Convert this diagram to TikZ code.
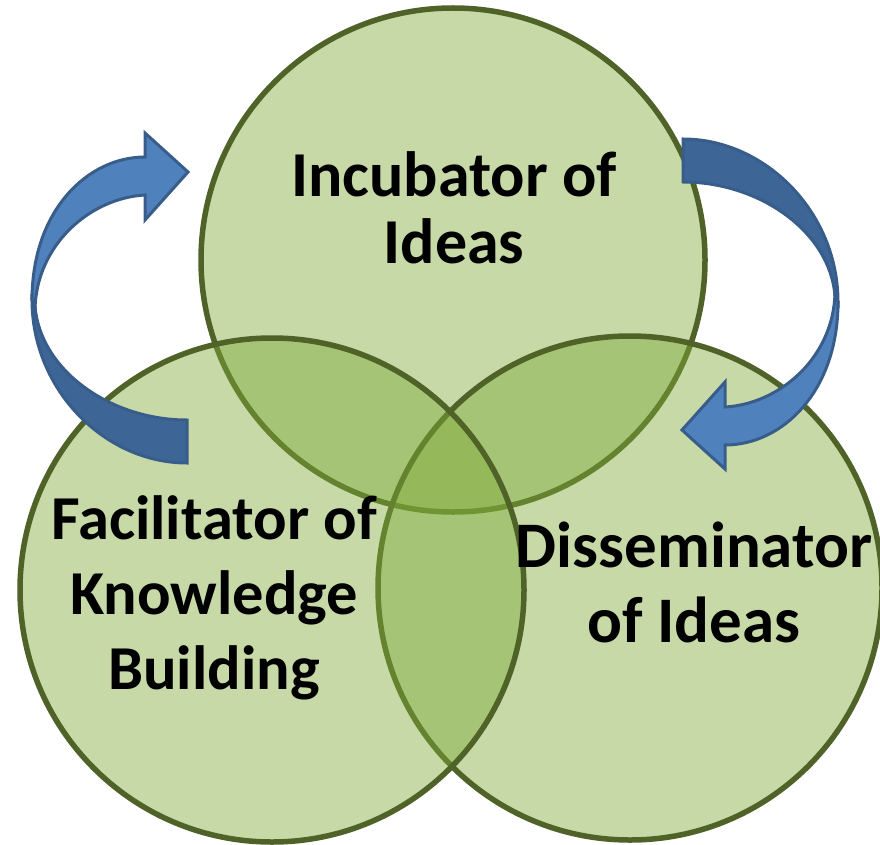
\documentclass[tikz,border=0pt]{standalone}
\usepackage{fontspec}
\setmainfont{Carlito}
\definecolor{vennfill}{RGB}{128,171,57}
\definecolor{vennline}{RGB}{79,98,40}
\definecolor{arrowfront}{RGB}{79,129,189}
\definecolor{arrowback}{RGB}{61,101,150}
\definecolor{arrowline}{RGB}{56,93,138}
\begin{document}
\begin{tikzpicture}[x=1pt,y=-1pt,
    venn/.style={circle,draw=vennline,line width=5.5pt,fill=vennfill,
      fill opacity=0.45,draw opacity=1,minimum size=504pt,inner sep=0pt},
    venntext/.style 2 args={align=center,font=\bfseries\fontsize{#1}{#2}\selectfont,inner sep=0pt},
    arrowpart/.style={draw=arrowline,line width=3pt,fill=#1}]
      \useasboundingbox (0,0) rectangle (880,845);
      \node[venn] (incubator) at (453,260) {};
      \node[venn] (disseminator) at (630,588) {};
      \node[venn] (facilitator) at (272,590) {};
      \draw
        (454,208) node[venntext={64}{67}] (incubatorText){Incubator of\\Ideas}
        (214,598) node[venntext={62.5}{75}] (facilitatorText){Facilitator of\\Knowledge\\Building}
        (694,582) node[venntext={65}{75}] (disseminatorText){Disseminator\\of Ideas};
      \begin{scope}
        \draw[arrowpart=arrowback] (187,463) .. controls (105,463) and (32,390) .. (32,300)
          -- (35,306) .. controls (40,370) and (110,420) .. (187,420) -- cycle;
        \draw[arrowpart=arrowfront] (32,300) .. controls (32,210) and (88,157) .. (145,157)
          -- (145,133) -- (188,172) -- (145,220) -- (145,195)
          .. controls (90,198) and (36,245) .. (35,310) -- cycle;
      \end{scope}
      \begin{scope}[rotate around={180:(435,301)}]
        \draw[arrowpart=arrowback] (187,463) .. controls (105,463) and (32,390) .. (32,300)
          -- (35,306) .. controls (40,370) and (110,420) .. (187,420) -- cycle;
        \draw[arrowpart=arrowfront] (32,300) .. controls (32,210) and (88,157) .. (145,157)
          -- (145,133) -- (188,172) -- (145,220) -- (145,195)
          .. controls (90,198) and (36,245) .. (35,310) -- cycle;
      \end{scope}
    \end{tikzpicture}
\end{document}
